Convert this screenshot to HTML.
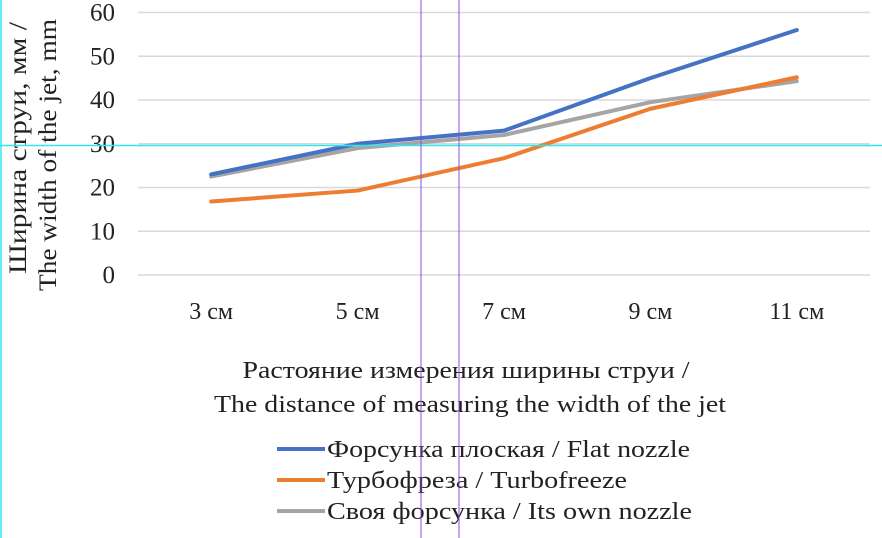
<!DOCTYPE html>
<html><head><meta charset="utf-8"><style>
html,body{margin:0;padding:0;background:#fff;}
svg{display:block;font-family:"Liberation Serif",serif;}
</style></head><body>
<svg id="chart" width="882" height="538" viewBox="0 0 882 538">
<g id="grid"></g><g id="yticks"></g><g id="xticks"></g><g id="series"></g>
<text transform="rotate(-90)" text-anchor="middle" font-size="25" fill="#222"><tspan x="-148" y="26" textLength="252" lengthAdjust="spacingAndGlyphs">Ширина струи, мм /</tspan><tspan x="-155" y="56" textLength="272" lengthAdjust="spacingAndGlyphs">The width of the jet, mm</tspan></text>
<text x="466" y="378" text-anchor="middle" font-size="24" fill="#222" textLength="447" lengthAdjust="spacingAndGlyphs">Растояние измерения ширины струи /</text>
<text x="470" y="412" text-anchor="middle" font-size="24" fill="#222" textLength="512" lengthAdjust="spacingAndGlyphs">The distance of measuring the width of the jet</text>
<g id="legend"></g>
<line x1="0" y1="145.5" x2="882" y2="145.5" stroke="#33e6ee" stroke-width="1.5"/>
<line x1="1" y1="0" x2="1" y2="538" stroke="#33e6ee" stroke-width="1.5"/>
<line x1="421" y1="0" x2="421" y2="538" stroke="#8a4fd8" stroke-width="1"/>
<line x1="459" y1="0" x2="459" y2="538" stroke="#8a4fd8" stroke-width="1"/>
</svg>
<script>
const categories = ["3 см","5 см","7 см","9 см","11 см"];
const flat = [23, 30, 33, 45, 56];
const turbo = [16.8, 19.3, 26.7, 38, 45.2];
const own = [22.5, 29, 32, 39.5, 44.3];
const yTicks = [0,10,20,30,40,50,60];
const seriesNames = ["Форсунка плоская / Flat nozzle","Турбофреза / Turbofreeze","Своя форсунка / Its own nozzle"];
const legendLens = [363, 300, 365];

const NS="http://www.w3.org/2000/svg";
const x0=138,x1=870,yTop=12.5,yBot=275;
const ys=v=>yBot-(v/60)*(yBot-yTop);
const xs=i=>x0+(i+0.5)*(x1-x0)/categories.length;
function mk(tag,attrs,parent){const e=document.createElementNS(NS,tag);for(const k in attrs)e.setAttribute(k,attrs[k]);parent.appendChild(e);return e;}
const grid=document.getElementById('grid'),yt=document.getElementById('yticks'),xt=document.getElementById('xticks'),sg=document.getElementById('series'),lg=document.getElementById('legend');
yTicks.forEach(v=>{
  const l=mk('line',{x1:x0,x2:x1,y1:ys(v),y2:ys(v),stroke:'#d9d9d9','stroke-width':1.5},grid);
  
  
  const t=mk('text',{x:115,y:ys(v)+8,'text-anchor':'end','font-size':25,fill:'#222'},yt);
  t.textContent=v;
  
  
});
categories.forEach((c,i)=>{
  const t=mk('text',{x:xs(i),y:319,'text-anchor':'middle','font-size':24,fill:'#222'},xt);
  t.textContent=c;
  
  
});
const data=[flat,turbo,own];
const colors=['#4472c4','#ed7d31','#a5a5a5'];
const order=[2,1,0];
order.forEach(k=>{
  const p=mk('polyline',{points:data[k].map((v,i)=>xs(i)+','+ys(v)).join(' '),fill:'none',stroke:colors[k],'stroke-width':4,'stroke-linejoin':'round','stroke-linecap':'round'},sg);
  
  
});
seriesNames.forEach((n,k)=>{
  const y=449+k*31;
  const g=mk('g',{},lg);
  
  
  mk('line',{x1:277,x2:325,y1:y,y2:y,stroke:colors[k],'stroke-width':4},g);
  const t=mk('text',{x:327,y:y+8,'font-size':24,fill:'#222',textLength:legendLens[k],lengthAdjust:'spacingAndGlyphs'},g);
  t.textContent=n;
});
</script>
</body></html>
